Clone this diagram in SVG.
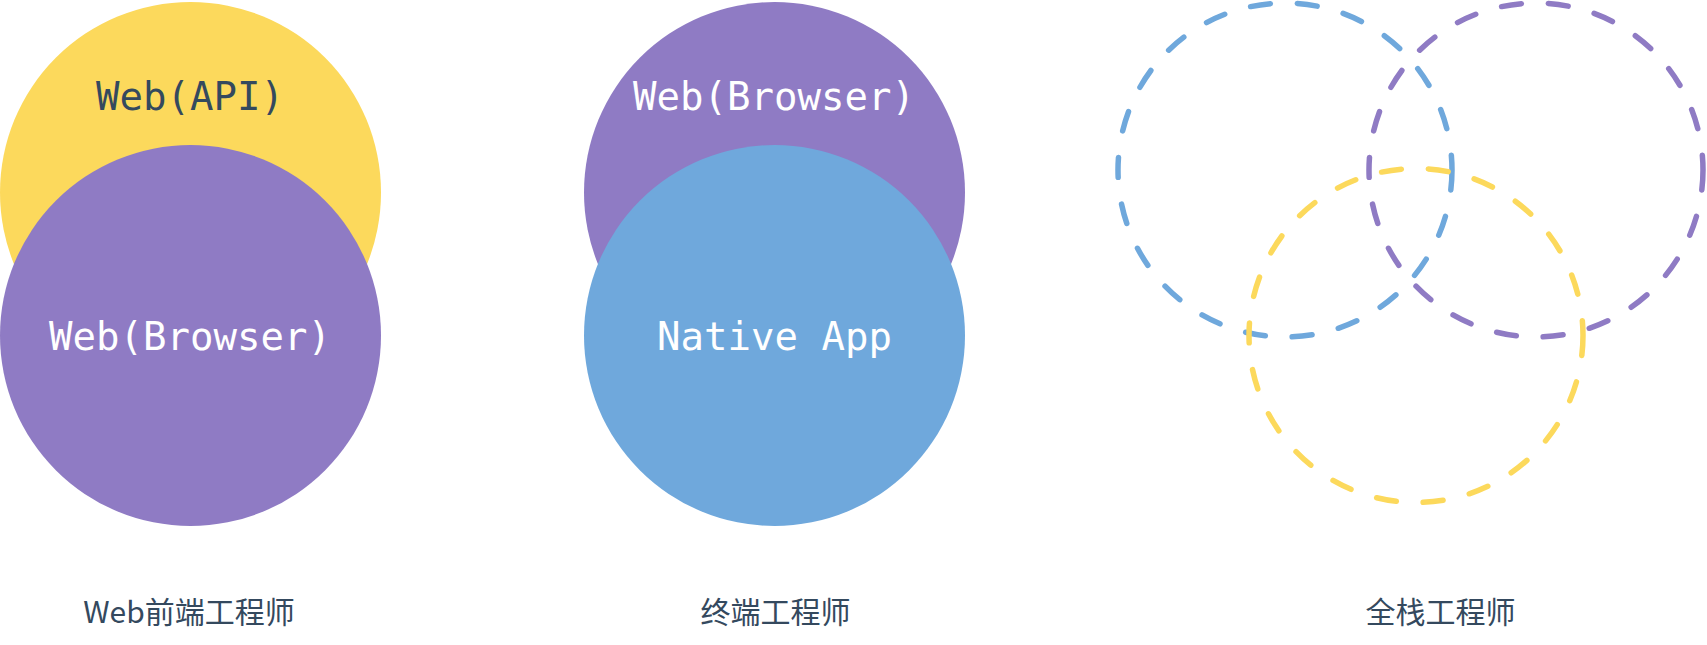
<svg xmlns="http://www.w3.org/2000/svg" width="1707" height="645" viewBox="0 0 1707 645">
<style>
.mono{font-family:"DejaVu Sans Mono","Liberation Mono",monospace;font-size:39px;text-anchor:middle}
.dark{fill:#34495e}
.light{fill:#ffffff}
.label{font-family:"Noto Sans CJK SC","Noto Sans",sans-serif;font-size:30px;fill:#34495e;text-anchor:middle}
.yellow{fill:#fcd95c}
.purple{fill:#8f7bc4}
.blue{fill:#6fa8dc}
.dash{fill:none;stroke-width:5.5;stroke-linecap:round;stroke-dasharray:20 27}
</style>
<rect width="1707" height="645" fill="#ffffff"/>
<g id="web-frontend">
  <g id="web-api"><circle class="yellow" cx="190.5" cy="192.5" r="190.5"/><text class="mono dark" x="190" y="110">Web(API)</text></g>
  <g id="web-browser-1"><circle class="purple" cx="190.5" cy="335.5" r="190.5"/><text class="mono light" x="190" y="349.5">Web(Browser)</text></g>
  <text class="label" x="189" y="623">Web前端工程师</text>
</g>
<g id="terminal">
  <g id="web-browser-2"><circle class="purple" cx="774.5" cy="192.5" r="190.5"/><text class="mono light" x="774" y="110">Web(Browser)</text></g>
  <g id="native-app"><circle class="blue" cx="774.5" cy="335.5" r="190.5"/><text class="mono light" x="774.5" y="349.5">Native App</text></g>
  <text class="label" x="775.5" y="623">终端工程师</text>
</g>
<g id="fullstack">
  <circle id="fs-blue" class="dash" stroke="#6fa8dc" cx="1285" cy="170" r="167"/>
  <circle id="fs-purple" class="dash" stroke="#8f7bc4" cx="1536" cy="170" r="167"/>
  <circle id="fs-yellow" class="dash" stroke="#fcd95c" cx="1416" cy="335.5" r="167"/>
  <text class="label" x="1440.5" y="623">全栈工程师</text>
</g>
</svg>
